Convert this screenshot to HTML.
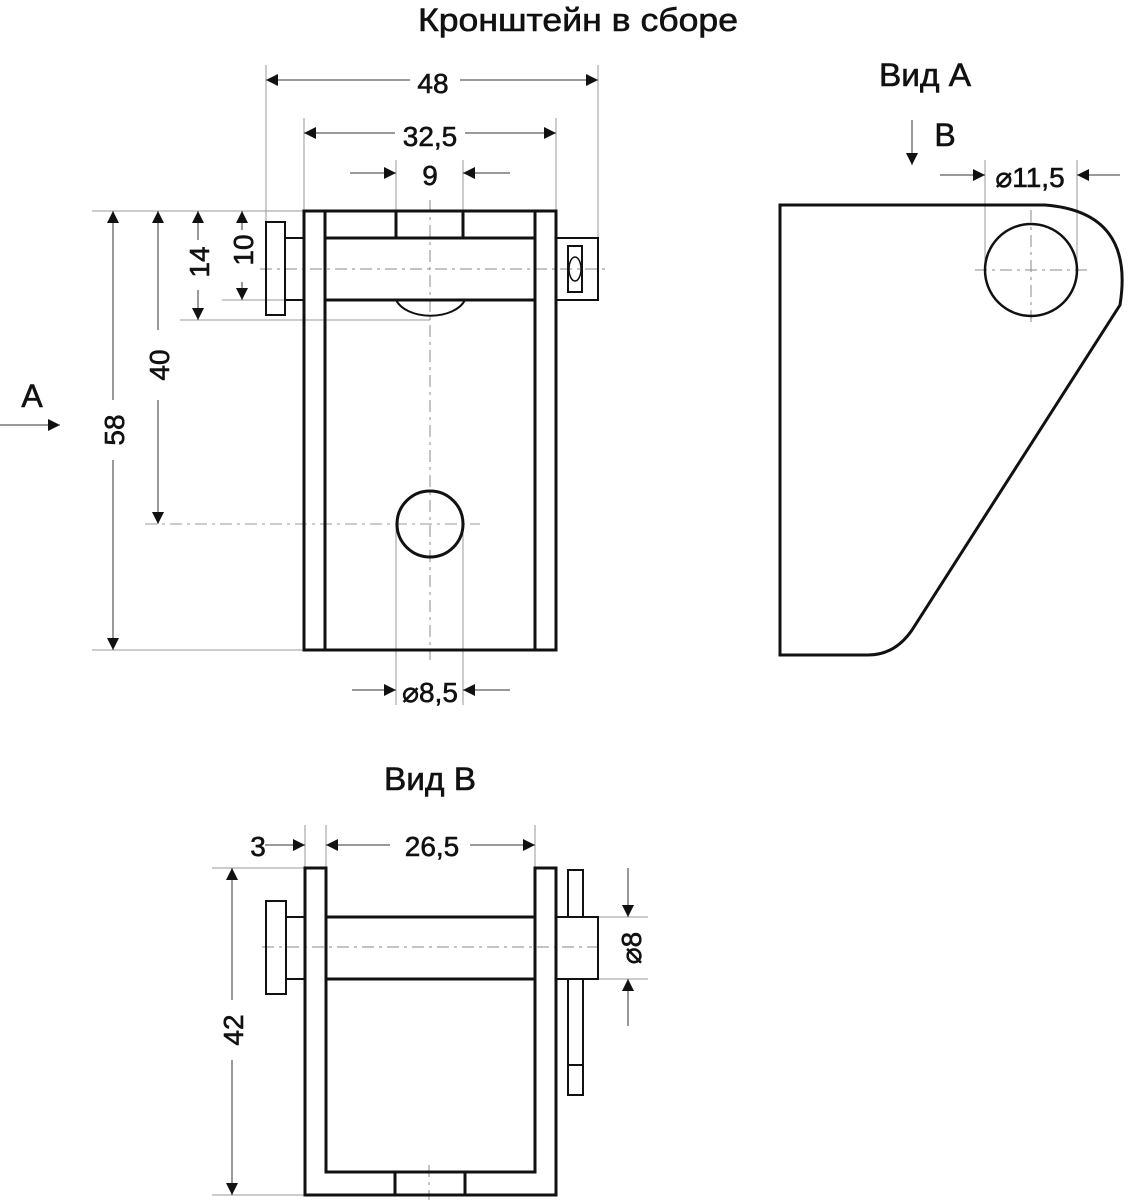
<!DOCTYPE html>
<html><head><meta charset="utf-8"><style>body{margin:0;background:#fff}svg{display:block}text{font-family:"Liberation Sans",sans-serif;fill:#111;stroke:#111;stroke-width:0.6}</style></head><body>
<svg width="1129" height="1200" viewBox="0 0 1129 1200" xmlns="http://www.w3.org/2000/svg">
<defs>
<marker id="a" viewBox="0 0 10 10" refX="10" refY="5" markerWidth="16" markerHeight="12" markerUnits="userSpaceOnUse" orient="auto-start-reverse"><path d="M0,0L10,5L0,10z" fill="#111"/></marker>
</defs>
<g font-size="32">
<text x="578" y="31" text-anchor="middle" textLength="320" lengthAdjust="spacingAndGlyphs">Кронштейн в сборе</text>
<text x="925" y="86" text-anchor="middle" textLength="92" lengthAdjust="spacingAndGlyphs">Вид A</text>
<text x="945" y="146" text-anchor="middle">B</text>
<text x="430" y="790" text-anchor="middle" textLength="92" lengthAdjust="spacingAndGlyphs">Вид B</text>
<text x="32" y="407" text-anchor="middle">A</text>
</g>
<g stroke="#999" stroke-width="1" fill="none">
<line x1="266" y1="65" x2="266" y2="222"/><line x1="598" y1="65" x2="598" y2="238"/>
<line x1="304" y1="118" x2="304" y2="211"/><line x1="556" y1="118" x2="556" y2="211"/>
<line x1="396" y1="160" x2="396" y2="211"/><line x1="463" y1="160" x2="463" y2="211"/>
<line x1="92" y1="211" x2="304" y2="211"/><line x1="92" y1="650" x2="304" y2="650"/>
<line x1="145" y1="524" x2="480" y2="524" stroke-dasharray="12,5,3,5"/>
<line x1="180" y1="320" x2="430" y2="320"/><line x1="222" y1="300" x2="304" y2="300"/>
<line x1="985" y1="160" x2="985" y2="270"/><line x1="1077" y1="160" x2="1077" y2="270"/>
<line x1="396" y1="524" x2="396" y2="705"/><line x1="463" y1="524" x2="463" y2="705"/>
<line x1="305" y1="825" x2="305" y2="868"/><line x1="326" y1="825" x2="326" y2="868"/><line x1="535" y1="825" x2="535" y2="868"/>
<line x1="212" y1="868" x2="305" y2="868"/><line x1="212" y1="1195" x2="305" y2="1195"/>
<line x1="598" y1="917" x2="648" y2="917"/><line x1="598" y1="979" x2="648" y2="979"/>
</g>
<g stroke="#333" stroke-width="1" fill="none" marker-end="url(#a)">
<line x1="410" y1="80" x2="266" y2="80"/><line x1="460" y1="80" x2="598" y2="80"/>
<line x1="395" y1="133" x2="304" y2="133"/><line x1="465" y1="133" x2="556" y2="133"/>
<line x1="350" y1="173" x2="396" y2="173"/><line x1="510" y1="173" x2="463" y2="173"/>
<line x1="113" y1="400" x2="113" y2="211"/><line x1="113" y1="460" x2="113" y2="650"/>
<line x1="158" y1="330" x2="158" y2="211"/><line x1="158" y1="400" x2="158" y2="524"/>
<line x1="198" y1="240" x2="198" y2="211"/><line x1="198" y1="290" x2="198" y2="320"/>
<line x1="242" y1="230" x2="242" y2="211"/><line x1="242" y1="282" x2="242" y2="300"/>
<line x1="0" y1="425" x2="60" y2="425"/>
<line x1="912" y1="120" x2="912" y2="165"/>
<line x1="940" y1="175" x2="985" y2="175"/><line x1="1120" y1="175" x2="1077" y2="175"/>
<line x1="352" y1="690" x2="396" y2="690"/><line x1="510" y1="690" x2="463" y2="690"/>
<line x1="265" y1="845" x2="305" y2="845"/>
<line x1="390" y1="845" x2="326" y2="845"/><line x1="470" y1="845" x2="535" y2="845"/>
<line x1="232" y1="1000" x2="232" y2="868"/><line x1="232" y1="1060" x2="232" y2="1195"/>
<line x1="628" y1="868" x2="628" y2="917"/><line x1="628" y1="1026" x2="628" y2="979"/>
</g>
<g font-size="28" text-anchor="middle">
<text x="433" y="93">48</text><text x="430" y="146">32,5</text><text x="430" y="185">9</text>
<text x="1030" y="187">⌀11,5</text><text x="430" y="702">⌀8,5</text>
<text x="258" y="856">3</text><text x="432" y="856">26,5</text>
<text transform="translate(124,430) rotate(-90)">58</text>
<text transform="translate(169,365) rotate(-90)">40</text>
<text transform="translate(209,262) rotate(-90)">14</text>
<text transform="translate(253,250) rotate(-90)">10</text>
<text transform="translate(243,1030) rotate(-90)">42</text>
<text transform="translate(641,948) rotate(-90)">⌀8</text>
</g>
<g stroke="#888" stroke-width="1" stroke-dasharray="12,5,3,5" fill="none">
<line x1="430" y1="200" x2="430" y2="660"/><line x1="260" y1="269" x2="605" y2="269"/>
<line x1="975" y1="270" x2="1087" y2="270"/><line x1="1031" y1="210" x2="1031" y2="325"/>
<line x1="262" y1="947" x2="602" y2="947"/><line x1="429" y1="1165" x2="429" y2="1200"/>
</g>
<g stroke="#111" stroke-width="3" fill="none">
<rect x="304" y="211" width="252" height="439"/>
<line x1="325" y1="211" x2="325" y2="650"/><line x1="535" y1="211" x2="535" y2="650"/>
<line x1="325" y1="238" x2="535" y2="238"/><line x1="325" y1="300" x2="535" y2="300"/>
<line x1="396" y1="211" x2="396" y2="238"/><line x1="463" y1="211" x2="463" y2="238"/>
<path d="M396,300 A36,22 0 0 0 465,300" stroke-width="2"/>
<rect x="266" y="222" width="19" height="93" stroke-width="2"/>
<rect x="285" y="238" width="19" height="62" stroke-width="2"/>
<rect x="556" y="238" width="42" height="62" stroke-width="2"/>
<rect x="568" y="246" width="14" height="46" stroke-width="2"/>
<ellipse cx="575" cy="269" rx="6" ry="12" stroke-width="1.5"/>
<circle cx="430" cy="524" r="33"/>
<path d="M780,205 L1045,205 Q1135,212 1120,305 L912,630 Q895,655 868,655 L780,655 Z"/>
<circle cx="1031" cy="270" r="46" stroke-width="2.5"/>
<path d="M305,868 L326,868 L326,1172 L535,1172 L535,868 L556,868 L556,1195 L305,1195 Z"/>
<line x1="395" y1="1172" x2="395" y2="1195"/><line x1="465" y1="1172" x2="465" y2="1195"/>
<line x1="326" y1="917" x2="535" y2="917"/><line x1="326" y1="979" x2="535" y2="979"/>
<rect x="266" y="901" width="20" height="93" stroke-width="2"/>
<rect x="286" y="917" width="19" height="62" stroke-width="2"/>
<rect x="556" y="917" width="42" height="62" stroke-width="2"/>
<path d="M568,917 L568,870 L583,870 L583,917 M568,979 L568,1095 L583,1095 L583,979 M568,1065 L583,1065" stroke-width="2"/>
</g>
</svg>
</body></html>
